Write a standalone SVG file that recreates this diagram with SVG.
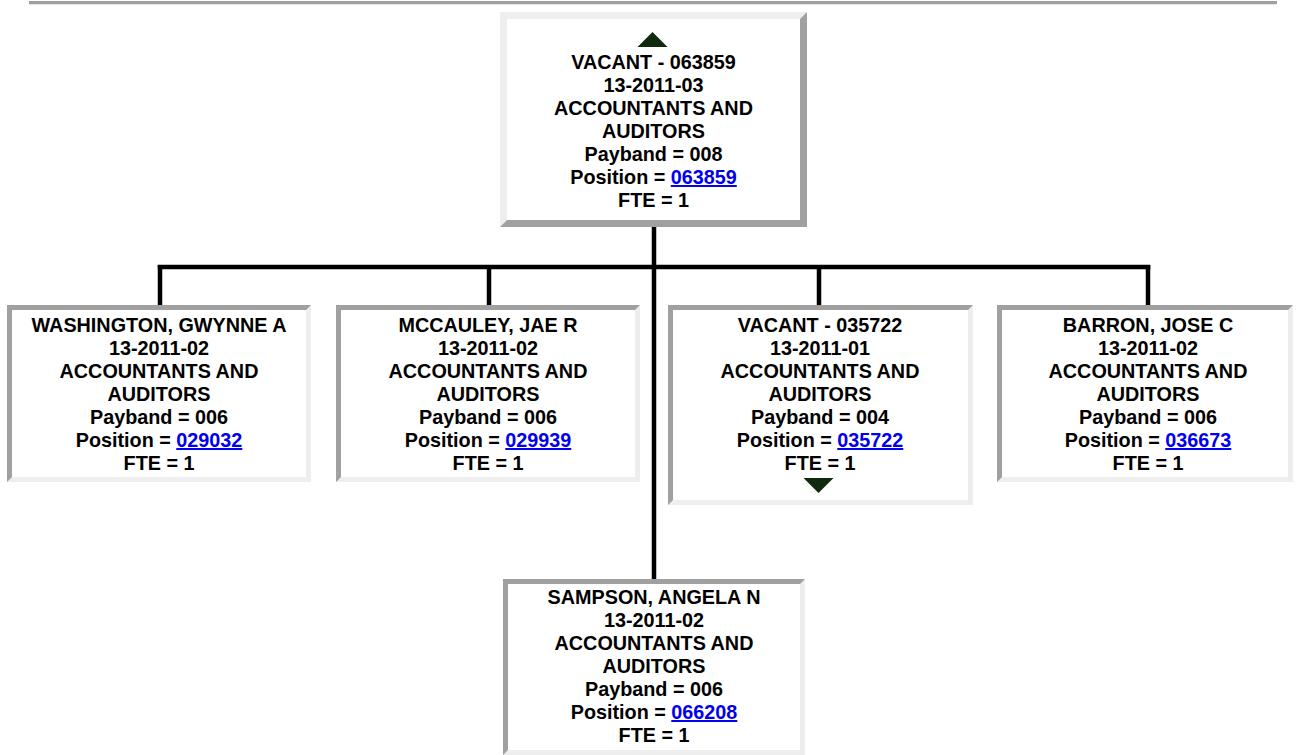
<svg xmlns="http://www.w3.org/2000/svg" width="1299" height="755" viewBox="0 0 1299 755">
<style>
.t{font-family:"Liberation Sans",Arial,sans-serif;font-weight:bold;font-size:19.8px;fill:#000;text-anchor:middle}
.lk{fill:#0000ee;text-decoration:underline}
.lt{fill:#eeeeee}
.dk{fill:#a0a0a0}
.in{fill:#ffffff}
.c{stroke:#000;stroke-width:4.5;fill:none}
.tri{fill:#0f2a0f}
</style>
<rect x="0" y="0" width="1299" height="755" fill="#fff"/>
<rect x="29" y="1" width="1248" height="3" class="dk"/>
<rect x="29" y="4" width="1248" height="1" fill="#e4e4e4"/>
<g id="connectors">
<line class="c" x1="654" y1="227" x2="654" y2="579"/>
<line class="c" x1="157.75" y1="267" x2="1150.25" y2="267"/>
<line class="c" x1="160" y1="265" x2="160" y2="305"/>
<line class="c" x1="489" y1="265" x2="489" y2="305"/>
<line class="c" x1="819" y1="265" x2="819" y2="305"/>
<line class="c" x1="1148" y1="265" x2="1148" y2="305"/>
</g>
<g id="n_top">
<rect x="500" y="12" width="307" height="215" class="lt"/>
<polygon points="807,12 807,227 500,227 507,220 800,220 800,19" class="dk"/>
<rect x="507" y="19" width="293" height="201" class="in"/>
<polygon points="637.5,47 667.5,47 652.5,32" class="tri"/>
<text class="t" x="653.5" y="69">VACANT - 063859</text>
<text class="t" x="653.5" y="92">13-2011-03</text>
<text class="t" x="653.5" y="115">ACCOUNTANTS AND</text>
<text class="t" x="653.5" y="138">AUDITORS</text>
<text class="t" x="653.5" y="161">Payband = 008</text>
<text class="t" x="653.5" y="184">Position = <tspan class="lk">063859</tspan></text>
<text class="t" x="653.5" y="207">FTE = 1</text>
</g>
<g id="n_washington">
<rect x="7" y="305" width="304" height="177" class="lt"/>
<polygon points="7,305 311,305 306,310 12,310 12,477 7,482" class="dk"/>
<rect x="12" y="310" width="294" height="167" class="in"/>
<text class="t" x="159" y="332">WASHINGTON, GWYNNE A</text>
<text class="t" x="159" y="355">13-2011-02</text>
<text class="t" x="159" y="378">ACCOUNTANTS AND</text>
<text class="t" x="159" y="401">AUDITORS</text>
<text class="t" x="159" y="424">Payband = 006</text>
<text class="t" x="159" y="447">Position = <tspan class="lk">029032</tspan></text>
<text class="t" x="159" y="470">FTE = 1</text>
</g>
<g id="n_mccauley">
<rect x="336" y="305" width="304" height="177" class="lt"/>
<polygon points="336,305 640,305 635,310 341,310 341,477 336,482" class="dk"/>
<rect x="341" y="310" width="294" height="167" class="in"/>
<text class="t" x="488" y="332">MCCAULEY, JAE R</text>
<text class="t" x="488" y="355">13-2011-02</text>
<text class="t" x="488" y="378">ACCOUNTANTS AND</text>
<text class="t" x="488" y="401">AUDITORS</text>
<text class="t" x="488" y="424">Payband = 006</text>
<text class="t" x="488" y="447">Position = <tspan class="lk">029939</tspan></text>
<text class="t" x="488" y="470">FTE = 1</text>
</g>
<g id="n_vacant035722">
<rect x="668" y="305" width="305" height="200" class="lt"/>
<polygon points="668,305 973,305 968,310 673,310 673,500 668,505" class="dk"/>
<rect x="673" y="310" width="295" height="190" class="in"/>
<text class="t" x="820" y="332">VACANT - 035722</text>
<text class="t" x="820" y="355">13-2011-01</text>
<text class="t" x="820" y="378">ACCOUNTANTS AND</text>
<text class="t" x="820" y="401">AUDITORS</text>
<text class="t" x="820" y="424">Payband = 004</text>
<text class="t" x="820" y="447">Position = <tspan class="lk">035722</tspan></text>
<text class="t" x="820" y="470">FTE = 1</text>
<polygon points="803.5,478 833.5,478 818.5,493" class="tri"/>
</g>
<g id="n_barron">
<rect x="997" y="305" width="296" height="177" class="lt"/>
<polygon points="997,305 1293,305 1288,310 1002,310 1002,477 997,482" class="dk"/>
<rect x="1002" y="310" width="286" height="167" class="in"/>
<text class="t" x="1148" y="332">BARRON, JOSE C</text>
<text class="t" x="1148" y="355">13-2011-02</text>
<text class="t" x="1148" y="378">ACCOUNTANTS AND</text>
<text class="t" x="1148" y="401">AUDITORS</text>
<text class="t" x="1148" y="424">Payband = 006</text>
<text class="t" x="1148" y="447">Position = <tspan class="lk">036673</tspan></text>
<text class="t" x="1148" y="470">FTE = 1</text>
</g>
<g id="n_sampson">
<rect x="503" y="579" width="302" height="176" class="lt"/>
<polygon points="503,579 805,579 800,584 508,584 508,750 503,755" class="dk"/>
<rect x="508" y="584" width="292" height="166" class="in"/>
<text class="t" x="654" y="604">SAMPSON, ANGELA N</text>
<text class="t" x="654" y="627">13-2011-02</text>
<text class="t" x="654" y="650">ACCOUNTANTS AND</text>
<text class="t" x="654" y="673">AUDITORS</text>
<text class="t" x="654" y="696">Payband = 006</text>
<text class="t" x="654" y="719">Position = <tspan class="lk">066208</tspan></text>
<text class="t" x="654" y="742">FTE = 1</text>
</g>
</svg>
